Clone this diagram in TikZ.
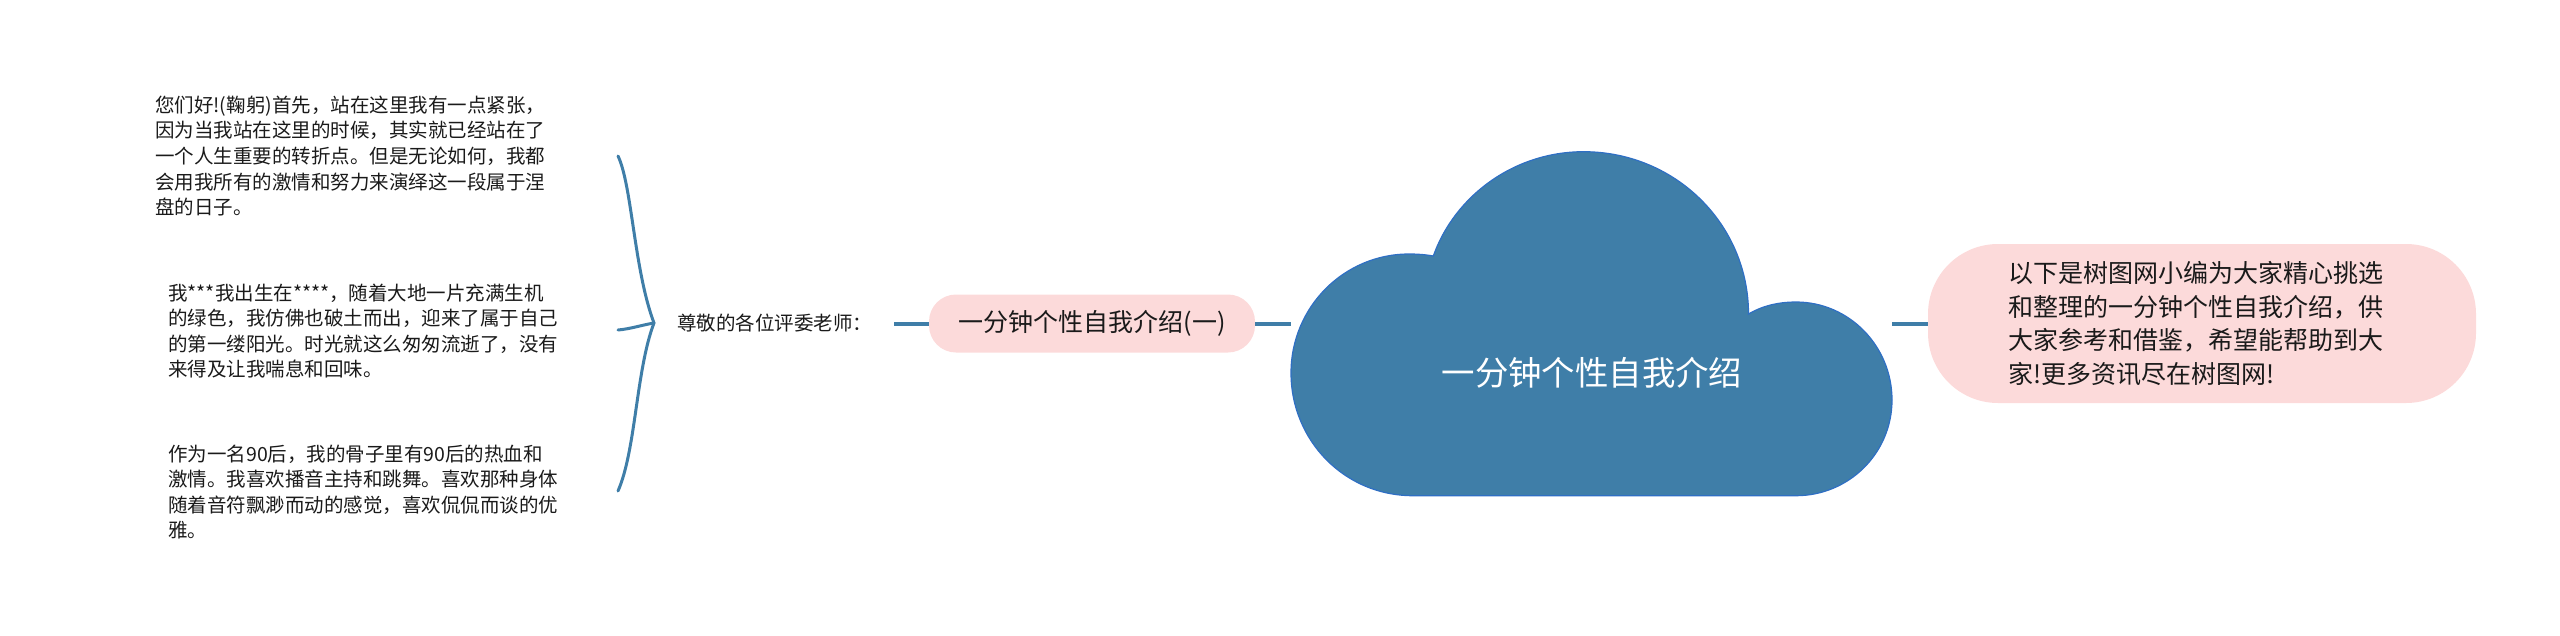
\documentclass[tikz,border=0pt]{standalone}
\usepackage{fontspec}
\setmainfont{Noto Sans CJK SC}
\definecolor{cloudblue}{HTML}{3F7EA8}
\definecolor{cloudedge}{HTML}{2F6FC4}
\definecolor{pillpink}{HTML}{FCDADA}
\definecolor{inktext}{HTML}{1A1A1A}
\tikzset{
  linkline/.style={line width=4pt, cloudblue},
  braceline/.style={line width=3pt, cloudblue, line cap=round},
  pill/.style={fill=pillpink, text=inktext, inner sep=0pt, align=left},
  leaf/.style={anchor=west, inner sep=0pt, align=left, text=inktext,
    font=\fontsize{19.5}{25.6}\selectfont},
}
\begin{document}
\begin{tikzpicture}[x=1pt, y=-1pt]
    \useasboundingbox (0,0) rectangle (2560,635);
    % Cloud
    \draw[fill=cloudblue, draw=cloudedge, line width=1.2pt]
      (1413,495.7) -- (1796,495.7)
      .. controls (1849,495.7) and (1892,453) .. (1892,400)
      .. controls (1892,346) and (1849,302) .. (1796,302)
      .. controls (1778,302) and (1762,306) .. (1748.5,314)
      .. controls (1748.5,224) and (1675,151.7) .. (1583.5,151.7)
      .. controls (1515,151.7) and (1455,195) .. (1433.3,256)
      .. controls (1425,254.5) and (1417,254) .. (1409,254)
      .. controls (1344,254) and (1291,307) .. (1291,373)
      .. controls (1291,440) and (1344,495.7) .. (1413,495.7) -- cycle;
    \node[text=white, inner sep=0pt, font=\fontsize{33.4}{36}\selectfont] (cloudtitle) at (1592,373) {一分钟个性自我介绍};
    % Pink boxes
    \node[pill, minimum width=326pt, minimum height=58pt, rounded corners=27pt,
      font=\fontsize{25}{30}\selectfont] (introone) at (1092,323.5) {一分钟个性自我介绍(一)};
    \node[pill, minimum width=548pt, minimum height=159pt, rounded corners=70pt, text width=388pt,
      font=\fontsize{25}{33.6}\selectfont] (introbox) at (2202,323.5)
      {以下是树图网小编为大家精心挑选\\和整理的一分钟个性自我介绍，供\\大家参考和借鉴，希望能帮助到大\\家!更多资讯尽在树图网!};
    % Left side texts
    \node[inner sep=0pt, text=inktext, anchor=west, font=\fontsize{19.5}{24}\selectfont] (teachers) at (677,323) {尊敬的各位评委老师：};
    \node[leaf] (leafone) at (155,156) {您们好!(鞠躬)首先，站在这里我有一点紧张，\\因为当我站在这里的时候，其实就已经站在了\\一个人生重要的转折点。但是无论如何，我都\\会用我所有的激情和努力来演绎这一段属于涅\\盘的日子。};
    \node[leaf] (leaftwo) at (168,331) {我***我出生在****，随着大地一片充满生机\\的绿色，我仿佛也破土而出，迎来了属于自己\\的第一缕阳光。时光就这么匆匆流逝了，没有\\来得及让我喘息和回味。};
    \node[leaf] (leafthree) at (168,492) {作为一名90后，我的骨子里有90后的热血和\\激情。我喜欢播音主持和跳舞。喜欢那种身体\\随着音符飘渺而动的感觉，喜欢侃侃而谈的优\\雅。};
    % Connectors
    \coordinate (cloudleft) at (1291,323.5);
    \coordinate (cloudright) at (1892,323.5);
    \coordinate (teachersend) at (894,323.5);
    \draw[linkline] (introone.east) -- (cloudleft);
    \draw[linkline] (cloudright) -- (introbox.west);
    \draw[linkline] (teachersend) -- (introone.west);
    % Brace
    \coordinate (bracetop) at (618,156);
    \coordinate (bracetip) at (654,323);
    \coordinate (bracebot) at (618,491);
    \coordinate (bracestub) at (618,330);
    \draw[braceline] (bracetop) .. controls (632,185) and (634,270) .. (bracetip);
    \draw[braceline] (bracetip) .. controls (636,370) and (636,450) .. (bracebot);
    \draw[braceline] (bracestub) .. controls (630,329) and (642,325) .. (bracetip);
  \end{tikzpicture}
\end{document}
